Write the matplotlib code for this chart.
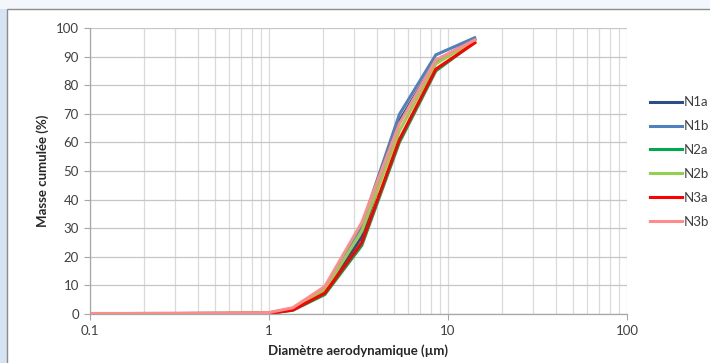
import matplotlib
matplotlib.use("Agg")
import matplotlib.pyplot as plt
from matplotlib.patches import Rectangle
import numpy as np

# ---------------------------------------------------------#
# Data                     #
# ---------------------------------------------------------#
diam = [0.1, 0.2, 0.4, 0.7, 1.0, 1.36, 2.05, 3.3, 5.35, 8.55, 14.1]

n1a = [0.1, 0.1, 0.2, 0.2, 0.3, 1.6, 7.6, 27.0, 67.5, 88.5, 96.0]
n1b = [0.1, 0.2, 0.2, 0.3, 0.4, 2.0, 9.0, 31.0, 69.8, 90.6, 96.6]
n2a = [0.0, 0.1, 0.1, 0.2, 0.2, 1.3, 6.8, 24.0, 60.0, 85.0, 95.0]
n2b = [0.1, 0.1, 0.2, 0.3, 0.3, 1.8, 8.4, 29.0, 64.0, 87.5, 95.6]
n3a = [0.0, 0.1, 0.1, 0.2, 0.2, 1.4, 7.3, 25.0, 61.0, 85.6, 94.8]
n3b = [0.2, 0.2, 0.3, 0.4, 0.5, 2.2, 9.6, 32.0, 66.5, 88.8, 95.8]

labels = ["N1a", "N1b", "N2a", "N2b", "N3a", "N3b"]
series = [n1a, n1b, n2a, n2b, n3a, n3b]
colors = ["#2c4d87", "#4f81bd", "#00a84f", "#92d050", "#ff0000", "#ff8c8c"]

plt.rcParams['font.family'] = ['Lato', 'DejaVu Sans']

fig = plt.figure(figsize=(7.1, 3.63), dpi=100)
fig.patch.set_facecolor("#ffffff")

# light blue band on the left edge and outer frame
fig.patches.append(Rectangle((0, 0), 7/710, 1, transform=fig.transFigure,
                             facecolor="#d6e3f3", edgecolor="none", zorder=-3))
fig.patches.append(Rectangle((0, 1 - 9/363), 1, 9/363, transform=fig.transFigure,
                             facecolor="#f3f7fc", edgecolor="none", zorder=-3))
fig.patches.append(Rectangle((7/710, -0.05), 1.0, 1 - 9/363 + 0.05,
                             transform=fig.transFigure, facecolor="white",
                             edgecolor="#8c8c8c", lw=1.0, zorder=-2))

ax = fig.add_axes([90/710, 1 - 314/363, (627 - 90)/710, (314 - 28)/363])
ax.set_facecolor("none")
ax.set_zorder(2)

for lab, vals, col in zip(labels, series, colors):
    ax.plot(diam, vals, color=col, lw=2.2, label=lab, solid_joinstyle="miter")

ax.set_xscale("log")
ax.set_xlim(0.1, 100)
ax.set_ylim(0, 100)
ax.set_yticks(np.arange(0, 101, 10))
ax.set_xticks([0.1, 1, 10, 100])
ax.set_xticklabels(["0.1", "1", "10", "100"])
ax.xaxis.set_minor_formatter(matplotlib.ticker.NullFormatter())

ax.grid(True, which="major", axis="y", color="#c6c6c6", lw=0.9)
ax.grid(True, which="both", axis="x", color="#dadada", lw=0.9)
ax.set_axisbelow(True)

for s in ["top", "right"]:
    ax.spines[s].set_visible(False)
for s in ["left", "bottom"]:
    ax.spines[s].set_color("#a6a6a6")
    ax.spines[s].set_linewidth(0.9)

ax.tick_params(axis="both", which="major", length=4, color="#a6a6a6",
               labelsize=9.5, labelcolor="#404040", pad=4)
ax.tick_params(axis="x", which="minor", length=0)

ax.set_xlabel("Diamètre aerodynamique (µm)", fontsize=9.5, fontweight="bold",
              color="#262626", labelpad=5)
ax.set_ylabel("Masse cumulée (%)", fontsize=9.5, fontweight="bold",
              color="#262626", labelpad=5)

leg = fig.legend(loc="upper left", bbox_to_anchor=(645/710, 1 - 91/363),
                 frameon=False, fontsize=9.5, handlelength=2.4, handletextpad=0.1,
                 labelspacing=0.9, borderaxespad=0, labelcolor="#404040")
leg.set_zorder(3)

fig.savefig("out.png", dpi=100)
